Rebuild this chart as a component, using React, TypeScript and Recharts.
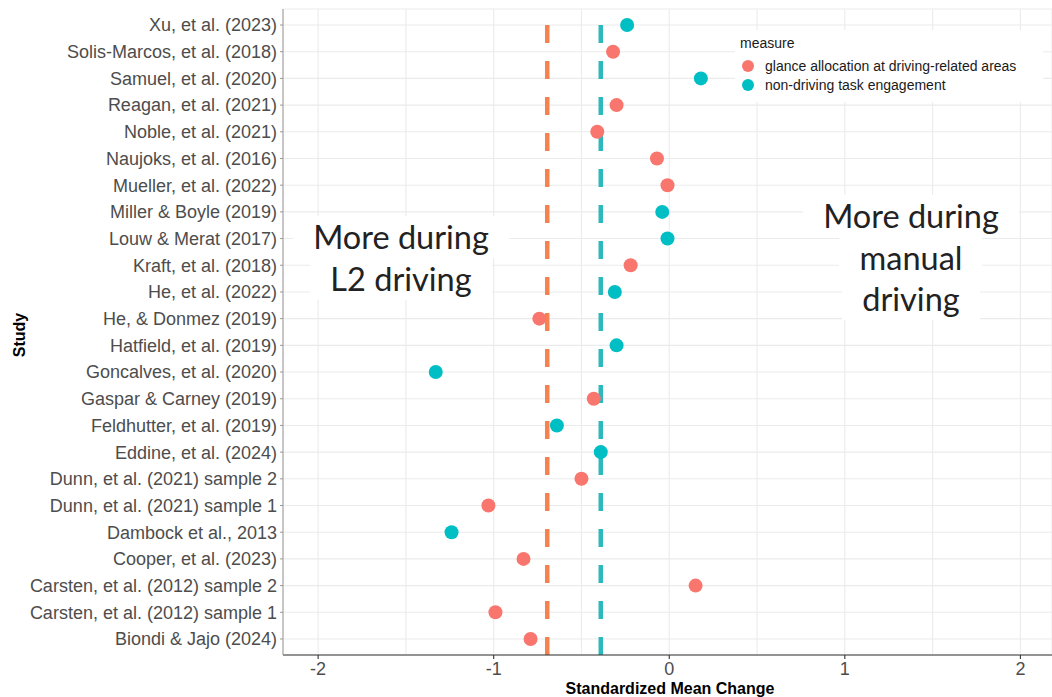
import React from "react";
import { ScatterChart, Scatter, XAxis, YAxis, CartesianGrid, ReferenceLine } from "recharts";

// studies listed top to bottom as they appear on the y axis
const studies = [
  "Xu, et al. (2023)",
  "Solis-Marcos, et al. (2018)",
  "Samuel, et al. (2020)",
  "Reagan, et al. (2021)",
  "Noble, et al. (2021)",
  "Naujoks, et al. (2016)",
  "Mueller, et al. (2022)",
  "Miller & Boyle (2019)",
  "Louw & Merat (2017)",
  "Kraft, et al. (2018)",
  "He, et al. (2022)",
  "He, & Donmez (2019)",
  "Hatfield, et al. (2019)",
  "Goncalves, et al. (2020)",
  "Gaspar & Carney (2019)",
  "Feldhutter, et al. (2019)",
  "Eddine, et al. (2024)",
  "Dunn, et al. (2021) sample 2",
  "Dunn, et al. (2021) sample 1",
  "Dambock et al., 2013",
  "Cooper, et al. (2023)",
  "Carsten, et al. (2012) sample 2",
  "Carsten, et al. (2012) sample 1",
  "Biondi & Jajo (2024)",
];

// g = glance allocation, n = non-driving task engagement
const measures = [
  "n", "g", "n", "g", "g", "g", "g", "n", "n", "g", "n", "g",
  "n", "n", "g", "n", "n", "g", "g", "n", "g", "g", "g", "g",
];

const values = [
  -0.24, -0.32, 0.18, -0.3, -0.41, -0.07, -0.01, -0.04, -0.01, -0.22, -0.31, -0.74,
  -0.3, -1.33, -0.43, -0.64, -0.39, -0.5, -1.03, -1.24, -0.83, 0.15, -0.99, -0.79,
];

const measureNames = ["glance allocation at driving-related areas", "non-driving task engagement"];
const meanGlance = -0.695;
const meanTask = -0.39;

const xTicks = [-2, -1.5, -1, -0.5, 0, 0.5, 1, 1.5, 2];
const yTicks = studies.map((_, i) => i);

const RED = "#F8766D";
const TEAL = "#00BFC4";
const FONT = "Liberation Sans, Arial, sans-serif";

const points = studies.map((s, i) => ({
  study: s,
  y: studies.length - 1 - i,
  x: values[i],
  measure: measures[i],
}));
const glanceData = points.filter((p) => p.measure === "g");
const taskData = points.filter((p) => p.measure === "n");

const Dot = (color: string) => (props: any) => (
  <circle cx={props.cx} cy={props.cy} r={7} fill={color} />
);

const XTick = (props: any) => {
  const { x, y, payload } = props;
  if (!Number.isInteger(payload.value)) return null;
  return (
    <g>
      <line x1={x} x2={x} y1={y} y2={y + 4} stroke="#333" strokeWidth={1.1} />
      <text x={x} y={y + 20} textAnchor="middle" fontSize={18} fill="#4D4D4D" fontFamily={FONT}>
        {payload.value}
      </text>
    </g>
  );
};

const annoStyle: React.CSSProperties = {
  position: "absolute",
  fontFamily: "Lato, 'Open Sans', sans-serif",
  fontSize: 32.5,
  color: "#222",
  textAlign: "center",
  transform: "translateX(-50%)",
  whiteSpace: "nowrap",
};
const lineSpan: React.CSSProperties = {
  display: "inline-block",
  background: "#fff",
  padding: "0 20px",
};

export default function App() {
  return (
    <div style={{ position: "absolute", left: 0, top: 0, width: 1052, height: 697, background: "#fff" }}>
      <ScatterChart width={1052} height={697} margin={{ top: 9, right: 0, bottom: 0, left: 0 }}>
        <CartesianGrid stroke="#EBEBEB" strokeWidth={1.1} />
        <XAxis
          type="number"
          dataKey="x"
          domain={[-2.2, 2.18]}
          ticks={xTicks}
          allowDataOverflow
          height={42}
          tickSize={0}
          tickMargin={0}
          tickLine={false}
          tick={<XTick />}
          axisLine={{ stroke: "#333", strokeWidth: 1.1 }}
          label={{
            content: () => (
              <text x={670} y={694} textAnchor="middle" fontSize={16} fontWeight="bold" fill="#000" fontFamily={FONT}>
                Standardized Mean Change
              </text>
            ),
          }}
        />
        <XAxis xAxisId="top" orientation="top" type="number" domain={[-2.2, 2.18]} height={0} tick={false} tickLine={false} axisLine={{ stroke: "#999" }} />
        <YAxis
          type="number"
          dataKey="y"
          domain={[-0.6, 23.6]}
          ticks={yTicks}
          interval={0}
          width={283}
          tickSize={3}
          tickMargin={3}
          tickLine={{ stroke: "#999" }}
          axisLine={{ stroke: "#999" }}
          tickFormatter={(v: number) => studies[studies.length - 1 - v]}
          tick={{ fontSize: 18, fill: "#4D4D4D", fontFamily: FONT }}
          label={{
            content: () => (
              <text x={25} y={335} transform="rotate(-90 25 335)" textAnchor="middle" fontSize={16} fontWeight="bold" fill="#000" fontFamily={FONT}>
                Study
              </text>
            ),
          }}
        />
        <Scatter name={measureNames[0]} data={glanceData} fill={RED} shape={Dot(RED)} isAnimationActive={false} />
        <Scatter name={measureNames[1]} data={taskData} fill={TEAL} shape={Dot(TEAL)} isAnimationActive={false} />
        <ReferenceLine x={meanGlance} stroke="#F5824F" strokeWidth={4.5} strokeDasharray="18 18" />
        <ReferenceLine x={meanTask} stroke="#2DB8BD" strokeWidth={4.5} strokeDasharray="18 18" />
      </ScatterChart>

      <div
        style={{
          position: "absolute",
          left: 735,
          top: 30,
          width: 308,
          height: 72,
          background: "#fff",
          fontFamily: FONT,
          fontSize: 14,
          color: "#1a1a1a",
        }}
      >
        <div style={{ position: "absolute", left: 5, top: 5 }}>measure</div>
        {measureNames.map((m, i) => (
          <div key={m} style={{ position: "absolute", left: 7, top: 28 + i * 19, display: "flex", alignItems: "center" }}>
            <span style={{ width: 12, height: 12, borderRadius: 6, background: i === 0 ? RED : TEAL, display: "inline-block" }} />
            <span style={{ marginLeft: 11 }}>{m}</span>
          </div>
        ))}
      </div>

      <div style={{ ...annoStyle, left: 401, top: 216, lineHeight: "42px" }}>
        <span style={lineSpan}>More during</span>
        <br />
        <span style={lineSpan}>L2 driving</span>
      </div>
      <div style={{ ...annoStyle, left: 911, top: 195, lineHeight: "41.5px" }}>
        <span style={lineSpan}>More during</span>
        <br />
        <span style={lineSpan}>manual</span>
        <br />
        <span style={lineSpan}>driving</span>
      </div>
    </div>
  );
}
